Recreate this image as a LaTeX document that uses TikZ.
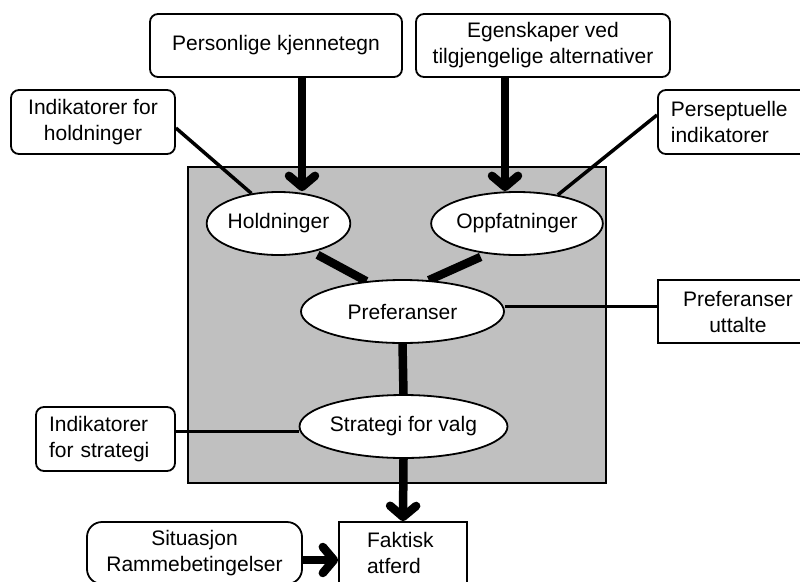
\documentclass[tikz,border=0pt]{standalone}
\usepackage{fontspec}
\setmainfont{Liberation Sans}
\usetikzlibrary{arrows.meta,shapes.geometric}
\pgfdeclarelayer{bg}
\pgfdeclarelayer{mid}
\pgfsetlayers{bg,mid,main}
\tikzset{
  txt/.style={font=\fontsize{21}{26}\selectfont},
  rbox/.style={txt, draw, line width=1.8pt, fill=white, rounded corners=8pt, inner sep=0pt, align=center},
  sbox/.style={txt, draw, line width=1.8pt, fill=white, inner sep=0pt, align=center},
  oval/.style={txt, ellipse, draw, line width=1.8pt, fill=white, inner sep=0pt, minimum height=63pt},
  thin/.style={line width=3.5pt},
  thick/.style={line width=8.5pt},
  bigarrow/.style={line width=8.5pt, -{Straight Barb[length=11pt,width=26pt,round]}},
}
\begin{document}
\begin{tikzpicture}[x=1pt,y=-1pt]
\useasboundingbox (0,0) rectangle (800,581);

% ellipses
\node[oval, minimum width=131pt] (hold) at (278.5,223.5) {Holdninger};
\node[oval, minimum width=152pt] (opp) at (517,223.5) {Oppfatninger};
\node[oval, minimum width=203pt] (pref) at (402.5,311.5) {Preferanser};
\node[oval, minimum width=203pt] (strat) at (403.5,426.5) {Strategi for valg};

% boxes
\node[rbox, minimum width=252pt, minimum height=63pt] (pk) at (276,45.5) {Personlige kjennetegn};
\node[rbox, minimum width=254pt, minimum height=63pt] (eg) at (543,45.5) {Egenskaper ved\\tilgjengelige alternativer};
\node[rbox, minimum width=164pt, minimum height=64pt] (ih) at (93,122) {Indikatorer for\\holdninger};
\node[rbox, anchor=west, text width=134pt, inner xsep=13pt, minimum height=64pt, align=left] (ps) at (657,122) {Perseptuelle\\indikatorer};
\node[sbox, anchor=west, minimum width=160pt, minimum height=63pt] (pu) at (657,311.5) {Preferanser\\uttalte};
\node[rbox, text width=113pt, inner xsep=13pt, minimum height=64pt, align=left] (is) at (105.5,439) {Indikatorer\\for strategi};
\node[sbox, text width=72pt, inner xsep=28pt, minimum height=62pt, align=left] (fak) at (403,553) {Faktisk\\atferd};
\node[rbox, rounded corners=15pt, minimum width=215pt, minimum height=62pt] (sit) at (194.5,553) {Situasjon\\Rammebetingelser};

% grey panel
\begin{pgfonlayer}{bg}
\node[draw, line width=1.8pt, fill={rgb,255:red,192;green,192;blue,192}, inner sep=0pt, minimum width=418pt, minimum height=316pt] (panel) at (397,325) {};
\end{pgfonlayer}

\begin{pgfonlayer}{mid}
\draw[bigarrow] ([xshift=26pt]pk.south) -- ([xshift=26pt]pk.south |- hold.north);
\draw[bigarrow] ([xshift=-38pt]eg.south) -- ([xshift=-38pt]eg.south |- opp.north);
\draw[thin] ([yshift=-6pt]ih.east) -- (hold.132);
\draw[thin] ([yshift=7pt]ps.west) -- (opp.35);
\draw[thick] ([yshift=-4pt]hold.-35) -- (pref.140);
\draw[thick] ([yshift=-4pt]opp.-141) -- (pref.50);
\draw[thin] ([yshift=5pt]pref.east) -- ([yshift=5pt]pref.east -| pu.west);
\draw[thick] (pref.south) -- (strat.north);
\draw[thin] ([yshift=-5pt]strat.west) -- ([yshift=-5pt]strat.west -| is.east);
\draw[bigarrow] (strat.south) -- (fak.north);
\draw[bigarrow] ([yshift=-7pt]sit.east) -- ([yshift=-7pt]sit.east -| fak.west);
\end{pgfonlayer}
\end{tikzpicture}
\end{document}
